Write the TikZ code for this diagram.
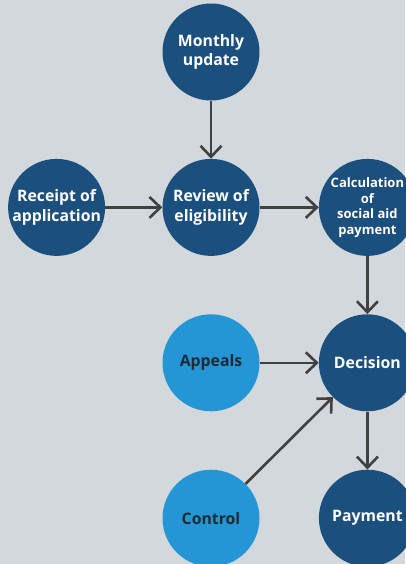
\documentclass[tikz,border=0pt]{standalone}
\usepackage{fontspec}
\setmainfont{Open Sans}
\usetikzlibrary{arrows.meta,positioning}
\definecolor{bgcol}{HTML}{D3D8DD}
\definecolor{darkblue}{HTML}{1B4F7E}
\definecolor{lightblue}{HTML}{2596D5}
\definecolor{textdark}{HTML}{1F2A33}
\definecolor{linegrey}{HTML}{404040}
\begin{document}
\begin{tikzpicture}[
    x=1pt, y=-1pt,
    stage/.style={circle, fill=darkblue, text=white, align=center, inner sep=0pt, minimum size=97pt, font=\bfseries\fontsize{15.8}{19.5}\selectfont},
    input/.style={stage, fill=lightblue, text=textdark},
    small/.style={font=\bfseries\fontsize{13}{15.5}\selectfont},
    arrow/.style={-{Straight Barb[length=11pt,width=21pt]}, line width=2.6pt, draw=linegrey}
  ]
    \fill[bgcol] (0,0) rectangle (405,564);
    \useasboundingbox (0,0) rectangle (405,564);
    \node[stage] (update) at (211,52) {Monthly\\update};
    \node[stage, below=58pt of update] (review) {Review of\\eligibility};
    \node[stage, left=57pt of review] (receipt) {Receipt of\\application};
    \node[stage, small, right=59pt of review] (calc) {Calculation\\of\\social aid\\payment};
    \node[stage, below=58pt of calc] (decision) {Decision};
    \node[input, left=59pt of decision] (appeals) {Appeals};
    \node[stage, below=58pt of decision] (payment) {Payment};
    \node[input, left=59pt of payment] (control) {Control};
    \draw[arrow] (update) -- (review);
    \draw[arrow] (receipt) -- (review);
    \draw[arrow] (review) -- (calc);
    \draw[arrow] (calc) -- (decision);
    \draw[arrow] (appeals) -- (decision);
    \draw[arrow] (control) -- (decision);
    \draw[arrow] (decision) -- (payment);
  \end{tikzpicture}
\end{document}
